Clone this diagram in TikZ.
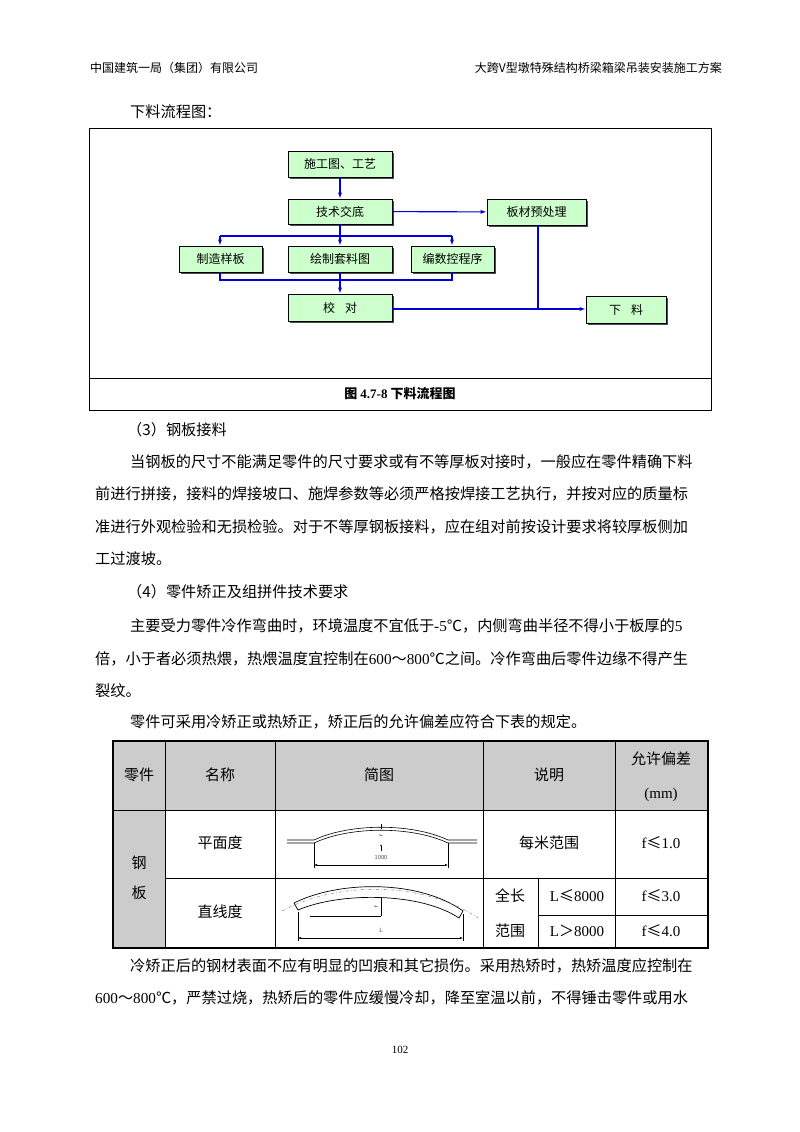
\documentclass[tikz,border=0pt]{standalone}
\usepackage{fontspec}
\setmainfont{Noto Sans CJK SC}
\newfontfamily\tnr{Liberation Serif}
\usetikzlibrary{arrows.meta}
\tikzset{
 fbox/.style={draw=black,fill=green!20,line width=0.6pt,inner sep=0pt,font=\fontsize{12}{12}\selectfont},
 flow/.style={draw=blue!85!black,line width=1.1pt},
 farr/.style={flow,-{Latex[length=6pt,width=4pt]}},
 body/.style={anchor=west,inner sep=0pt,font=\fontsize{15.2}{15.2}\selectfont},
 tcell/.style={inner sep=0pt,font=\fontsize{15}{15}\selectfont},
 thinl/.style={line width=0.5pt},
}
\newcommand{\bx}[6]{%
 \fill[black!70] (#2+2,#3+2) rectangle (#4+2,#5+2);
 \node[fbox,minimum width=#4-#2,minimum height=#5-#3] (#1) at ({(#2+#4)/2},{(#3+#5)/2}) {#6};}
\begin{document}
\begin{tikzpicture}[x=1pt,y=-1pt]
\useasboundingbox[fill=white] (0,0) rectangle (800,1132);
% header
\node[anchor=west,inner sep=0pt,font=\fontsize{12}{12}\selectfont] (h1) at (90,68) {中国建筑一局（集团）有限公司};
\node[anchor=east,inner sep=0pt,font=\fontsize{12}{12}\selectfont] (h2) at (722,68) {大跨V型墩特殊结构桥梁箱梁吊装安装施工方案};
\node[body] (t0) at (130,112) {下料流程图：};
% frame
\draw[line width=0.8pt] (89,128) rectangle (711,410);
\draw[line width=0.8pt] (89,378) -- (711,378);
\node[inner sep=0pt,font=\fontsize{13}{13}\selectfont\bfseries] (cap) at (400,394) {图 {\tnr\bfseries 4.7-8} 下料流程图};
% boxes
\bx{a}{288}{151}{392}{177}{施工图、工艺}
\bx{b}{288}{199}{392}{224}{技术交底}
\bx{c}{487}{199}{586}{225}{板材预处理}
\bx{d}{179}{246}{262}{272}{制造样板}
\bx{e}{288}{246}{392}{272}{绘制套料图}
\bx{g}{411}{246}{494}{272}{编数控程序}
\bx{h}{288}{294}{392}{321}{校\hspace{10pt}对}
\bx{k}{586}{296}{666}{323}{下\hspace{10pt}料}
\coordinate (br1) at (220,236);
\coordinate (br2) at (452,236);
\coordinate (m1) at (220,280);
\coordinate (m2) at (452,280);
\coordinate (j) at (538,309);
\draw[farr] (a) -- (b);
\draw[farr] (b) -- (c);
\draw[flow] (br1) -- (br2);
\draw[farr] (b) -- (e);
\draw[farr] (br1) -- (d.north -| br1);
\draw[farr] (br2) -- (g.north -| br2);
\draw[flow] (d.south -| m1) -- (m1) -- (m2) -- (g.south -| m2);
\draw[farr] (e) -- (h);
\draw[flow] (c.south -| j) -- (j);
\draw[farr] (h.east |- j) -- (k.west |- j);
% text
\node[body] (p1) at (127,430) {（3）钢板接料};
\node[body] (p2) at (130,462) {当钢板的尺寸不能满足零件的尺寸要求或有不等厚板对接时，一般应在零件精确下料};
\node[body] (p3) at (95,494) {前进行拼接，接料的焊接坡口、施焊参数等必须严格按焊接工艺执行，并按对应的质量标};
\node[body] (p4) at (95,527) {准进行外观检验和无损检验。对于不等厚钢板接料，应在组对前按设计要求将较厚板侧加};
\node[body] (p5) at (95,559) {工过渡坡。};
\node[body] (p6) at (127,592) {（4）零件矫正及组拼件技术要求};
\node[body] (p7) at (130,626) {主要受力零件冷作弯曲时，环境温度不宜低于{\tnr -5}℃，内侧弯曲半径不得小于板厚的{\tnr 5}};
\node[body] (p8) at (95,659) {倍，小于者必须热煨，热煨温度宜控制在{\tnr 600}～{\tnr 800}℃之间。冷作弯曲后零件边缘不得产生};
\node[body] (p9) at (95,691) {裂纹。};
\node[body] (p10) at (130,722) {零件可采用冷矫正或热矫正，矫正后的允许偏差应符合下表的规定。};
% table
\fill[black!20] (113,741) rectangle (708,810);
\fill[black!20] (113,810) rectangle (165,948);
\draw[thinl] (113,810) -- (708,810);
\draw[thinl] (165,878) -- (708,878);
\draw[thinl] (538,915) -- (708,915);
\draw[thinl] (165,741) -- (165,948);
\draw[thinl] (275,741) -- (275,948);
\draw[thinl] (483,741) -- (483,948);
\draw[thinl] (615,741) -- (615,948);
\draw[thinl] (538,878) -- (538,948);
\draw[line width=1.4pt] (113,741) rectangle (708,948);
\node[tcell] (c1) at (139,775) {零件};
\node[tcell] (c2) at (220,775) {名称};
\node[tcell] (c3) at (379,775) {简图};
\node[tcell] (c4) at (549,775) {说明};
\node[tcell] (c5) at (661,759) {允许偏差};
\node[tcell] (c6) at (661,795) {\tnr (mm)};
\node[tcell] (c7) at (139,863) {钢};
\node[tcell] (c8) at (139,893) {板};
\node[tcell] (c9) at (220,843) {平面度};
\node[tcell] (c10) at (220,912) {直线度};
\node[tcell] (c11) at (549,843) {每米范围};
\node[tcell] (c12) at (661,843) {{\tnr f}≤{\tnr 1.0}};
\node[tcell] (c13) at (510,896) {全长};
\node[tcell] (c14) at (510,931) {范围};
\node[tcell] (c15) at (577,896) {{\tnr L}≤{\tnr 8000}};
\node[tcell] (c16) at (577,931) {{\tnr L}＞{\tnr 8000}};
\node[tcell] (c17) at (661,896) {{\tnr f}≤{\tnr 3.0}};
\node[tcell] (c18) at (661,931) {{\tnr f}≤{\tnr 4.0}};
% sketch 1
\draw[line width=0.6pt] (287,840) -- (314,840) .. controls (350,823) and (412,823) .. (448,840) -- (477,840);
\draw[line width=0.6pt] (287,843) -- (314,843) .. controls (350,826) and (412,826) .. (448,843) -- (477,843);
\draw[thinl] (314,843) -- (314,868);
\draw[thinl] (448,843) -- (448,868);
\draw[thinl,{Latex[length=3pt]}-{Latex[length=3pt]}] (314,865) -- (448,865);
\node[inner sep=0pt,font=\fontsize{6}{6}\selectfont\sffamily,text=black!70] (n1000) at (381,858) {1000};
\draw[thinl] (381,824) -- (381,829);
\draw[thinl,-{Latex[length=2pt]}] (381,851) -- (381,844);
\node[inner sep=0pt,font=\fontsize{5}{5}\sffamily,rotate=90] (nf1) at (381,836) {f};
% sketch 2
\draw[line width=0.7pt] (294,903) .. controls (340,880) and (420,880) .. (463,911) -- (459,918) .. controls (420,892) and (340,892) .. (298,910) -- cycle;
\draw[thinl,dash dot,black!50] (282,911) .. controls (340,880) and (425,882) .. (478,918);
\draw[thinl] (310,916) -- (381,916);
\draw[thinl] (381,898) -- (381,916);
\node[inner sep=0pt,font=\fontsize{5}{5}\sffamily,rotate=90] (nf2) at (376,907) {f};
\draw[thinl] (298,912) -- (298,941);
\draw[thinl] (463,914) -- (463,941);
\draw[thinl,{Latex[length=3pt]}-{Latex[length=3pt]}] (298,938) -- (463,938);
\node[inner sep=0pt,font=\fontsize{6}{6}\selectfont\sffamily,text=black!70] (nL) at (381,930) {L};
% after table
\node[body] (p11) at (130,966) {冷矫正后的钢材表面不应有明显的凹痕和其它损伤。采用热矫时，热矫温度应控制在};
\node[body] (p12) at (95,998) {{\tnr 600}～{\tnr 800}℃，严禁过烧，热矫后的零件应缓慢冷却，降至室温以前，不得锤击零件或用水};
\node[inner sep=0pt,font=\fontsize{11}{11}\selectfont\tnr] (pg) at (400,1050) {102};
\end{tikzpicture}
\end{document}
